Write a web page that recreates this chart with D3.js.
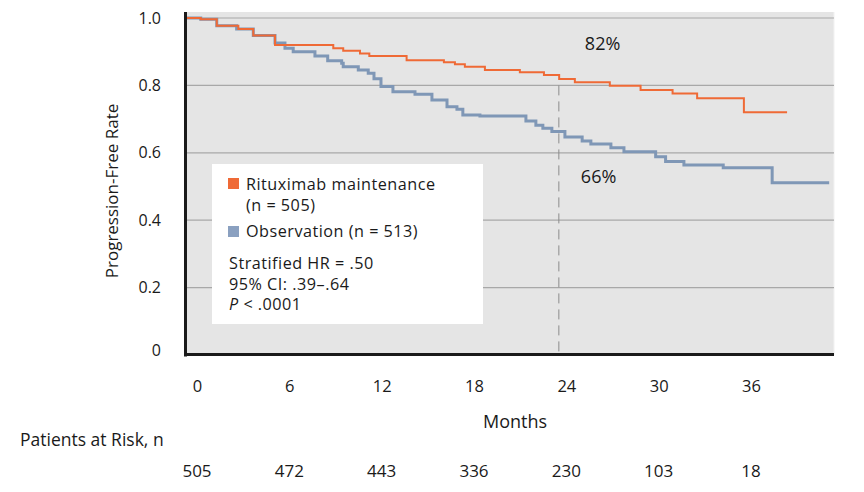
<!DOCTYPE html>
<html>
<head>
<meta charset="utf-8">
<script src="https://cdn.jsdelivr.net/npm/d3@7"></script>
<style>
  html, body { margin: 0; padding: 0; background: #ffffff; }
  svg { display: block; font-family: "Open Sans", "Noto Sans", sans-serif; }
</style>
</head>
<body>
<svg id="chart" width="864" height="492"></svg>
<script>
// ---------------- data ----------------
const monthTicks = [0, 6, 12, 18, 24, 30, 36];
const patientsAtRisk = [505, 472, 443, 336, 230, 103, 18];
const yTickValues = [0, 0.2, 0.4, 0.6, 0.8, 1.0];

// Rituximab maintenance (step times in months, progression-free rate after step)
const rituxTime = [0, 0.95, 1.98, 3.37, 4.33, 5.73, 9.48, 10.12, 11.20, 11.80, 14.20, 16.60, 17.31, 17.95,
  19.24, 21.49, 23.04, 24.02, 25.03, 27.28, 29.26, 31.32, 32.90, 35.91, 38.69];
const rituxRate = [1.000, 0.996, 0.977, 0.967, 0.948, 0.920, 0.910, 0.903, 0.895, 0.887, 0.875, 0.869, 0.863, 0.855,
  0.846, 0.839, 0.831, 0.819, 0.809, 0.799, 0.786, 0.776, 0.762, 0.720, 0.720];

// Observation
const obsTime = [0, 0.95, 1.98, 3.26, 4.33, 5.73, 6.37, 6.90, 8.30, 9.12, 10.02, 10.12, 11.09, 11.73, 12.10, 12.55,
  13.32, 14.74, 15.83, 16.80, 17.44, 17.82, 18.92, 21.88, 22.52, 22.97, 23.55, 24.39, 25.50, 26.06, 27.35,
  28.19, 30.23, 30.87, 32.05, 34.58, 37.73, 41.40];
const obsRate = [1.000, 0.996, 0.977, 0.967, 0.948, 0.926, 0.910, 0.900, 0.887, 0.873, 0.866, 0.855, 0.846, 0.836, 0.820, 0.797,
  0.781, 0.774, 0.757, 0.737, 0.729, 0.712, 0.709, 0.694, 0.682, 0.673, 0.663, 0.647, 0.635, 0.626, 0.615,
  0.603, 0.588, 0.574, 0.564, 0.556, 0.511, 0.511];

const landmarkMonth = 24;
const rituxLabel = "82%";
const obsLabel = "66%";

// ---------------- layout ----------------
const svg = d3.select("#chart");
const plotLeft = 186, plotRight = 834, plotTop = 12, plotBottom = 355;
const x = d3.scaleLinear().domain([0, 42]).range([186, 838.5]);
const y = d3.scaleLinear().domain([0, 1]).range([355, 18]);
// tick labels are printed slightly offset from the plotted month positions
const xLabel = d3.scaleLinear().domain([0, 36]).range([197, 751]);

const orange = "#ef6a36";
const blue = "#7f97b6";
const ink = "#1a1a1a";

// background
svg.append("rect")
  .attr("x", plotLeft).attr("y", plotTop)
  .attr("width", plotRight - plotLeft).attr("height", plotBottom - plotTop)
  .attr("fill", "#e5e5e5");
svg.append("line")
  .attr("x1", plotRight).attr("x2", plotRight).attr("y1", plotTop).attr("y2", plotBottom)
  .attr("stroke", "#f2f2f2").attr("stroke-width", 1);

// gridlines
svg.append("g").selectAll("line")
  .data(yTickValues.filter(d => d > 0))
  .join("line")
  .attr("x1", plotLeft).attr("x2", plotRight)
  .attr("y1", d => y(d)).attr("y2", d => y(d))
  .attr("stroke", "#a8a8a8").attr("stroke-width", 1.2);

// landmark dashed line
svg.append("line")
  .attr("x1", x(landmarkMonth)).attr("x2", x(landmarkMonth))
  .attr("y1", y(0.8)).attr("y2", y(0))
  .attr("stroke", "#8c8c8c").attr("stroke-width", 1)
  .attr("stroke-dasharray", "10,6");

// curves
const line = d3.line().curve(d3.curveStepAfter).x(d => x(d[0])).y(d => y(d[1]));
svg.append("path")
  .datum(d3.zip(obsTime, obsRate))
  .attr("d", line).attr("fill", "none")
  .attr("stroke", blue).attr("stroke-width", 3);
svg.append("path")
  .datum(d3.zip(rituxTime, rituxRate))
  .attr("d", line).attr("fill", "none")
  .attr("stroke", orange).attr("stroke-width", 2);

// axes lines
svg.append("line")
  .attr("x1", 185.5).attr("x2", 185.5).attr("y1", plotTop).attr("y2", plotBottom + 1.5)
  .attr("stroke", ink).attr("stroke-width", 3);
svg.append("line")
  .attr("x1", 184).attr("x2", plotRight).attr("y1", 354.5).attr("y2", 354.5)
  .attr("stroke", ink).attr("stroke-width", 3);

// y axis labels
const yAxis = d3.axisLeft(y).tickValues(yTickValues).tickSize(0).tickPadding(0)
  .tickFormat(d => d === 0 ? "0" : d3.format(".1f")(d));
const gy = svg.append("g").attr("transform", "translate(161,0)").call(yAxis);
gy.select(".domain").remove();
gy.selectAll("text").attr("font-size", 16).attr("fill", ink)
  .attr("font-family", "'Open Sans', sans-serif")
  .attr("dy", (d) => d === 0 ? "0.05em" : "0.32em");

// x axis labels
const xAxis = d3.axisBottom(xLabel).tickValues(monthTicks).tickSize(0).tickPadding(0);
const gx = svg.append("g").attr("transform", "translate(0,380)").call(xAxis);
gx.select(".domain").remove();
gx.selectAll("text").attr("font-size", 16.5).attr("fill", ink)
  .attr("font-family", "'Open Sans', sans-serif");

// at-risk numbers
svg.append("g").selectAll("text")
  .data(d3.zip(monthTicks, patientsAtRisk))
  .join("text")
  .attr("x", d => xLabel(d[0])).attr("y", 477)
  .attr("text-anchor", "middle").attr("font-size", 17).attr("fill", ink)
  .text(d => d[1]);

svg.append("text").attr("x", 20).attr("y", 446)
  .attr("font-size", 17.5).attr("fill", ink).text("Patients at Risk, n");

svg.append("text").attr("x", 515).attr("y", 428).attr("text-anchor", "middle")
  .attr("font-size", 18).attr("fill", ink).text("Months");

svg.append("text")
  .attr("transform", "translate(118,191) rotate(-90)")
  .attr("text-anchor", "middle").attr("font-size", 17).attr("fill", ink)
  .text("Progression-Free Rate");

// landmark annotations
svg.append("text").attr("x", x(landmarkMonth) + 26).attr("y", 50)
  .attr("font-size", 18).attr("fill", ink).text(rituxLabel);
svg.append("text").attr("x", x(landmarkMonth) + 22).attr("y", 183)
  .attr("font-size", 18).attr("fill", ink).text(obsLabel);

// legend box
const lg = svg.append("g");
lg.append("rect").attr("x", 212).attr("y", 164).attr("width", 271).attr("height", 160).attr("fill", "#ffffff");
lg.append("rect").attr("x", 228).attr("y", 178).attr("width", 11).attr("height", 11).attr("fill", orange);
lg.append("rect").attr("x", 228).attr("y", 226).attr("width", 11).attr("height", 11).attr("fill", "#8aa0c0");
const lt = (tx, ty, s) => lg.append("text").attr("x", tx).attr("y", ty)
  .attr("font-size", 16.2).attr("letter-spacing", "0.5px").attr("fill", ink).text(s);
lt(246, 190, "Rituximab maintenance");
lt(246, 211, "(n = 505)");
lt(246, 237, "Observation (n = 513)");
lt(229, 269, "Stratified HR = .50");
lt(229, 290, "95% CI: .39\u2013.64");
const pt = lg.append("text").attr("x", 229).attr("y", 310)
  .attr("font-size", 16.2).attr("letter-spacing", "0.5px").attr("fill", ink);
pt.append("tspan").attr("font-style", "italic").text("P");
pt.append("tspan").text(" < .0001");
</script>
</body>
</html>
